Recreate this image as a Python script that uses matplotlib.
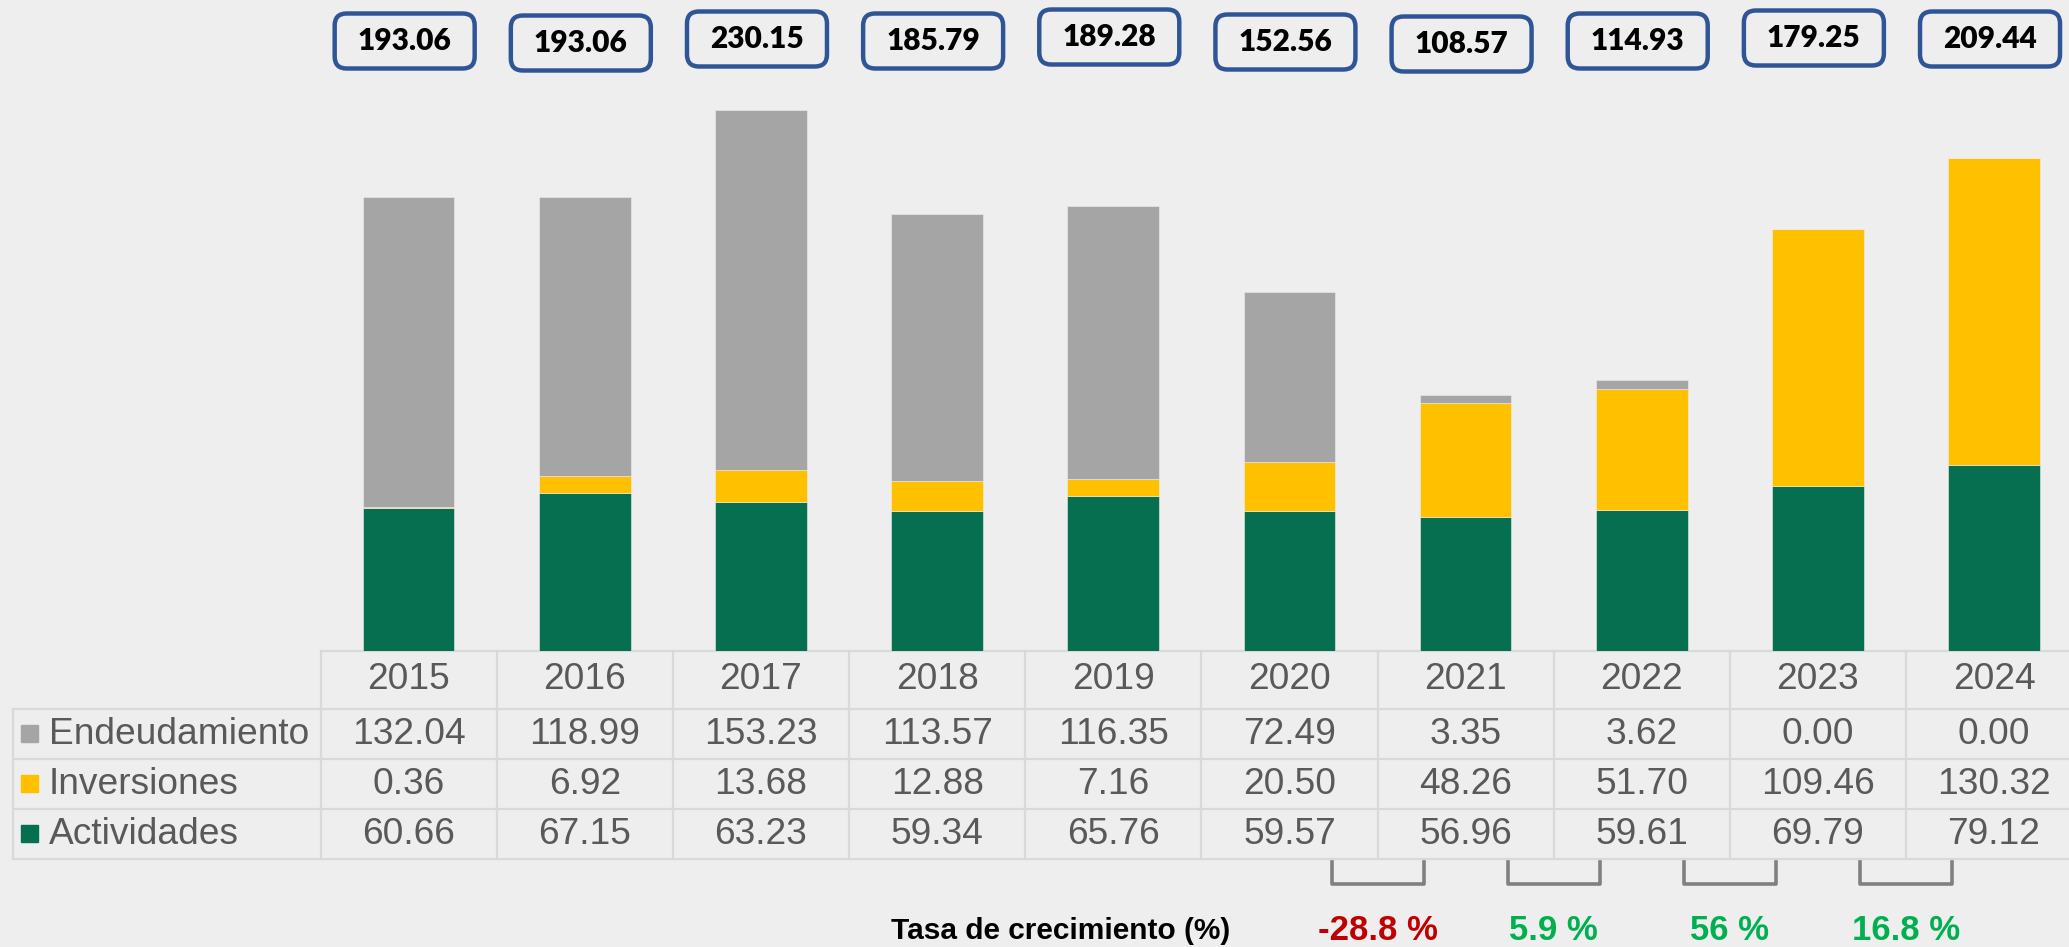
import numpy as np
import matplotlib.pyplot as plt
from matplotlib.patches import FancyBboxPatch, Rectangle
from matplotlib import transforms

# data (millones)
years = ['2015', '2016', '2017', '2018', '2019', '2020', '2021', '2022', '2023', '2024']
endeudamiento = [132.04, 118.99, 153.23, 113.57, 116.35, 72.49, 3.35, 3.62, 0.00, 0.00]
inversiones = [0.36, 6.92, 13.68, 12.88, 7.16, 20.50, 48.26, 51.70, 109.46, 130.32]
actividades = [60.66, 67.15, 63.23, 59.34, 65.76, 59.57, 56.96, 59.61, 69.79, 79.12]
totales = [193.06, 193.06, 230.15, 185.79, 189.28, 152.56, 108.57, 114.93, 179.25, 209.44]
tasa = [-28.8, 5.9, 56, 16.8]   # 2020->2021 ... 2023->2024

bg = '#EEEEEE'
c_end = '#A5A5A5'
c_inv = '#FFC000'
c_act = '#056F4F'
c_txt = '#595959'
c_grid = '#D9D9D9'

W, H = 2069, 947
x0 = 320.6        # left edge of first year column (px)
cw = 176.15       # column width (px)
base = 650.5      # baseline of bars / top of table (px)
ppu = 2.35        # px per unit
rows = [650.5, 708.6, 758.7, 808.9, 859.0]

plt.rcParams['font.family'] = ['Liberation Sans', 'DejaVu Sans']

fig = plt.figure(figsize=(W / 100, H / 100), dpi=100, facecolor=bg)

ov = fig.add_axes([0, 0, 1, 1])
ov.set_xlim(0, W)
ov.set_ylim(H, 0)
ov.axis('off')

ax = fig.add_axes([x0 / W, (H - base) / H, (W - x0) / W, base / H])
ax.set_xlim(0, (W - x0) / cw)
ax.set_ylim(0, base / ppu)
ax.axis('off')

n = len(years)
xs = np.arange(n) + 0.5
act = np.array(actividades)
inv = np.array(inversiones)
end = np.array(endeudamiento)
ax.bar(xs, act, width=0.52, color=c_act, edgecolor=bg, linewidth=0.4)
ax.bar(xs, inv, width=0.52, bottom=act, color=c_inv, edgecolor=bg, linewidth=0.4)
ax.bar(xs, end, width=0.52, bottom=act + inv, color=c_end, edgecolor=bg, linewidth=0.4)

# x in column units, y in pixels
tr = transforms.blended_transform_factory(ax.transData, ov.transData)

# table grid
lw = 1.6
ov.plot([x0, W], [rows[0], rows[0]], color=c_grid, lw=lw)
for y in rows[1:]:
    ov.plot([13, W], [y, y], color=c_grid, lw=lw)
ov.plot([13, 13], [rows[1], rows[-1]], color=c_grid, lw=lw)
for k in range(n + 1):
    ax.plot([k, k], [rows[0], rows[-1]], color=c_grid, lw=lw, transform=tr, clip_on=False)

fs = 26.7
for i, yr in enumerate(years):
    ax.text(xs[i], (rows[0] + rows[1]) / 2, yr, transform=tr, ha='center', va='center',
            fontsize=fs, color=c_txt, clip_on=False)
series = [('Endeudamiento', endeudamiento, c_end),
          ('Inversiones', inversiones, c_inv),
          ('Actividades', actividades, c_act)]
for r, (name, vals, col) in enumerate(series):
    yc = (rows[r + 1] + rows[r + 2]) / 2
    ov.add_patch(Rectangle((21, yc - 8.5), 17, 17, color=col))
    ov.text(49, yc + 1, name, ha='left', va='center', fontsize=fs, color=c_txt)
    for i, v in enumerate(vals):
        ax.text(xs[i], yc + 1, f'{v:.2f}', transform=tr, ha='center', va='center',
                fontsize=fs, color=c_txt, clip_on=False)

# totals in rounded boxes
dy = [0, 2, -2, 0, -4, 1, 3, 0, -3, -2]
for i, t in enumerate(totales):
    cx = x0 + xs[i] * cw - 4
    cy = 41 + dy[i]
    ov.add_patch(FancyBboxPatch((cx - 70, cy - 27.5), 140, 55,
                                boxstyle='round,pad=0,rounding_size=12',
                                facecolor=bg, edgecolor='#2F5597', linewidth=3.2))
    ov.text(cx, cy, f'{t:.2f}', ha='center', va='center', fontsize=21.5,
            fontweight='heavy', family=['Lato', 'DejaVu Sans'], color='black')

# growth rate brackets and labels
for j, g in enumerate(tasa):
    k = 6 + j
    cx = x0 + k * cw
    ov.plot([cx - 46, cx - 46, cx + 46, cx + 46], [862, 884, 884, 862],
            color='#808080', lw=2.6, solid_joinstyle='round')
    ov.text(cx, 930, f'{g:g} %', ha='center', va='center', fontsize=25,
            fontweight='bold', color='#C00000' if g < 0 else '#00B050')

ov.text(1061, 931, 'Tasa de crecimiento (%)', ha='center', va='center',
        fontsize=21.5, fontweight='bold', color='black')

fig.savefig('out.png', dpi=100, facecolor=bg)
